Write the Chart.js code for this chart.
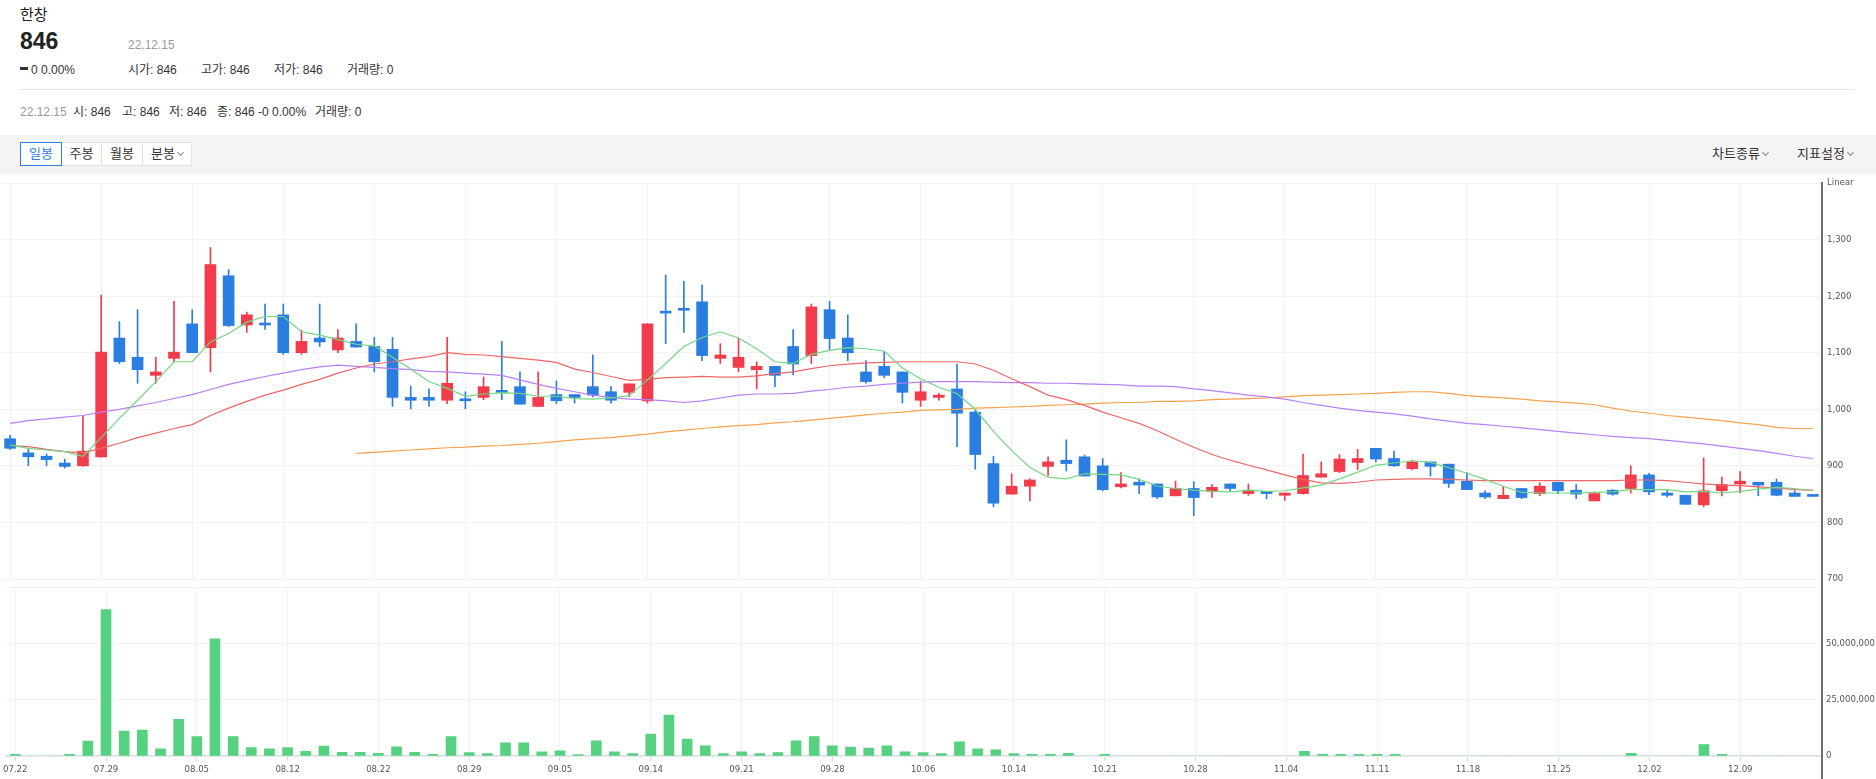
<!DOCTYPE html>
<html lang="ko">
<head>
<meta charset="utf-8">
<title>한창 일봉</title>
<script src="https://cdn.jsdelivr.net/npm/chart.js@4.4.1/dist/chart.umd.min.js"></script>
<style>
  body { margin: 0; width: 1876px; height: 779px; overflow: hidden; background: #fff; position: relative;
         font-family: "Liberation Sans", "Noto Sans CJK KR", sans-serif; color: #333; }
  .t { position: absolute; white-space: nowrap; font-size: 12px; line-height: 12px; }
  .gray { color: #999; }
  .sep { position: absolute; left: 20px; top: 89px; width: 1835px; height: 1px; background: #e6e6e6; }
  .toolbar { position: absolute; left: 0; top: 135px; width: 1876px; height: 39px; background: #f4f4f4; }
  .btn { position: absolute; top: 142px; height: 24px; box-sizing: border-box; border: 1px solid #e1e1e1;
         background: #fff; font-size: 13px; line-height: 22px; text-align: center; color: #333; }
  .btn.on { border-color: #2b7de9; color: #2b7de9; z-index: 1; }
  .chev { display: inline-block; width: 4px; height: 4px; border-right: 1px solid #888; border-bottom: 1px solid #888;
          transform: rotate(45deg); margin-left: 3px; vertical-align: 3px; }
  .menu { position: absolute; top: 146px; font-size: 13px; line-height: 16px; color: #333; white-space: nowrap; }
  .dash { display: inline-block; width: 8px; height: 3px; background: #333; vertical-align: 4px; margin-right: 3px; }
  canvas { position: absolute; left: 0; }
  #axisLine { position: absolute; left: 1821px; top: 182px; width: 1.5px; height: 597px; background: #6f6f6f; }
</style>
</head>
<body>

<div class="t" style="left:20px; top:7px; font-size:15px; line-height:15px; color:#222;">한창</div>
<div class="t" style="left:20px; top:30px; font-size:23px; line-height:23px; font-weight:bold; color:#222;">846</div>
<div class="t gray" style="left:128px; top:39px;">22.12.15</div>
<div class="t" style="left:20px; top:64px;"><span class="dash"></span>0 0.00%</div>
<div class="t" style="left:128px; top:64px;">시가: 846</div>
<div class="t" style="left:201px; top:64px;">고가: 846</div>
<div class="t" style="left:274px; top:64px;">저가: 846</div>
<div class="t" style="left:347px; top:64px;">거래량: 0</div>
<div class="sep"></div>
<div class="t gray" style="left:20px; top:106px;">22.12.15</div>
<div class="t" style="left:73px; top:106px;">시: 846</div>
<div class="t" style="left:122px; top:106px;">고: 846</div>
<div class="t" style="left:169px; top:106px;">저: 846</div>
<div class="t" style="left:217px; top:106px;">종: 846 -0 0.00%</div>
<div class="t" style="left:315px; top:106px;">거래량: 0</div>

<div class="toolbar"></div>
<div class="btn on" style="left:20px; width:42px;">일봉</div>
<div class="btn" style="left:61px; width:41px;">주봉</div>
<div class="btn" style="left:101px; width:42px;">월봉</div>
<div class="btn" style="left:142px; width:50px;">분봉<span class="chev"></span></div>
<div class="menu" style="left:1712px;">차트종류<span class="chev"></span></div>
<div class="menu" style="left:1797px;">지표설정<span class="chev"></span></div>

<canvas id="priceChart" width="1876" height="420" style="top:170px;"></canvas>
<canvas id="volumeChart" width="1876" height="201" style="top:578px;"></canvas>
<div id="axisLine"></div>

<script>
// 1. DATOS (거래일 22.07.22 ~ 22.12.15)
const dates = [
  '07.22','07.25','07.26','07.27','07.28','07.29',
  '08.01','08.02','08.03','08.04','08.05','08.08','08.09','08.10','08.11','08.12',
  '08.16','08.17','08.18','08.19','08.22','08.23','08.24','08.25','08.26','08.29','08.30','08.31',
  '09.01','09.02','09.05','09.06','09.07','09.08','09.13','09.14','09.15','09.16',
  '09.19','09.20','09.21','09.22','09.23','09.26','09.27','09.28','09.29','09.30',
  '10.04','10.05','10.06','10.07','10.11','10.12','10.13','10.14','10.17','10.18','10.19','10.20','10.21',
  '10.24','10.25','10.26','10.27','10.28','10.31',
  '11.01','11.02','11.03','11.04','11.07','11.08','11.09','11.10','11.11','11.14','11.15','11.16','11.17','11.18',
  '11.21','11.22','11.23','11.24','11.25','11.28','11.29','11.30',
  '12.01','12.02','12.05','12.06','12.07','12.08','12.09','12.12','12.13','12.14','12.15'
];

const opens = [
  948, 923, 917, 905, 900, 916, 1126, 1092, 1060, 1090, 1151, 1109, 1236, 1149, 1151, 1167, 1100, 1126, 1105, 1120,
  1111, 1106, 1021, 1021, 1016, 1017, 1021, 1032, 1040, 1005, 1026, 1026, 1040, 1031, 1030, 1015, 1172, 1177, 1190, 1090,
  1074, 1070, 1076, 1111, 1095, 1176, 1126, 1066, 1076, 1066, 1016, 1021, 1036, 995, 904, 850, 864, 899, 910, 916,
  900, 863, 871, 868, 847, 860, 855, 868, 851, 855, 848, 851, 880, 890, 906, 931, 913, 895, 907, 903,
  873, 852, 842, 860, 851, 871, 857, 838, 857, 860, 884, 852, 848, 831, 856, 868, 871, 871, 852, 846
];
const highs = [
  954, 929, 921, 912, 989, 1202, 1155, 1176, 1092, 1191, 1176, 1286, 1247, 1172, 1186, 1186, 1140, 1186, 1141, 1151,
  1127, 1127, 1041, 1036, 1127, 1031, 1057, 1120, 1066, 1066, 1050, 1026, 1096, 1040, 1045, 1151, 1237, 1226, 1220, 1116,
  1126, 1084, 1076, 1141, 1186, 1191, 1167, 1086, 1102, 1066, 1050, 1028, 1080, 1000, 917, 886, 877, 916, 946, 919,
  913, 888, 877, 868, 873, 872, 867, 868, 868, 855, 852, 921, 907, 920, 929, 931, 926, 910, 907, 903,
  888, 856, 864, 860, 870, 871, 867, 854, 858, 900, 887, 857, 848, 914, 880, 890, 871, 877, 856, 846
];
const lows = [
  929, 900, 900, 896, 899, 915, 1081, 1046, 1046, 1084, 1100, 1066, 1146, 1136, 1141, 1097, 1097, 1111, 1100, 1110,
  1066, 1005, 1001, 1005, 1010, 1001, 1017, 1017, 1009, 1005, 1010, 1011, 1022, 1011, 1022, 1011, 1116, 1136, 1086, 1081,
  1066, 1036, 1040, 1061, 1081, 1106, 1086, 1046, 1056, 1011, 1005, 1016, 934, 894, 828, 850, 838, 883, 891, 882,
  856, 861, 851, 842, 847, 812, 844, 855, 848, 842, 839, 850, 880, 888, 893, 907, 899, 893, 882, 862,
  858, 842, 842, 842, 847, 851, 842, 838, 848, 852, 849, 845, 832, 828, 847, 852, 847, 847, 846, 846
];
const closes = [
  931, 916, 911, 899, 926, 1101, 1084, 1070, 1066, 1101, 1100, 1256, 1148, 1167, 1149, 1100, 1120, 1119, 1126, 1110,
  1084, 1021, 1016, 1016, 1046, 1015, 1040, 1030, 1009, 1021, 1015, 1021, 1025, 1016, 1045, 1151, 1170, 1175, 1095, 1096,
  1092, 1076, 1060, 1080, 1181, 1125, 1100, 1049, 1060, 1030, 1031, 1025, 993, 920, 834, 864, 875, 907, 904, 882,
  858, 868, 866, 845, 860, 844, 862, 860, 857, 851, 852, 883, 886, 912, 913, 912, 900, 907, 899, 869,
  858, 845, 848, 844, 864, 856, 850, 851, 850, 884, 854, 848, 832, 856, 867, 873, 866, 848, 846, 846
];
const volumes = [
  730000, 400000, 400000, 730000, 6700000, 65200000, 11100000, 11600000, 3200000, 16300000,
  8600000, 52200000, 8600000, 3700000, 3200000, 3700000, 2050000, 4400000, 1600000, 1600000,
  1200000, 4100000, 1600000, 730000, 8600000, 1470000, 1030000, 5860000, 5860000, 1900000,
  2350000, 590000, 6740000, 1900000, 1030000, 9800000, 18200000, 7500000, 4500000, 1030000,
  1900000, 1030000, 1470000, 6740000, 8650000, 4500000, 3960000, 3500000, 4500000, 1900000,
  1470000, 1030000, 6300000, 3200000, 2800000, 1030000, 730000, 730000, 1170000, 300000,
  730000, 300000, 300000, 300000, 300000, 300000, 150000, 150000, 150000, 150000,
  150000, 2050000, 730000, 730000, 730000, 730000, 730000, 300000, 300000, 300000,
  300000, 300000, 100000, 300000, 100000, 300000, 300000, 100000, 100000, 1170000,
  300000, 100000, 300000, 5100000, 730000, 300000, 300000, 300000, 300000, 0
];

// 이동평균선 (5, 20, 60, 120일)
const ma5 = [
  937, 931, 928, 925, 917, 950, 984, 1016, 1049, 1084, 1084, 1119, 1134, 1154, 1164, 1164, 1137, 1131, 1123, 1115,
  1112, 1092, 1071, 1049, 1037, 1023, 1027, 1029, 1028, 1023, 1023, 1019, 1018, 1020, 1024, 1052, 1081, 1111, 1127, 1137,
  1126, 1107, 1084, 1081, 1097, 1104, 1109, 1107, 1103, 1073, 1054, 1039, 1028, 1000, 961, 927, 897, 880, 877, 886,
  885, 884, 876, 864, 860, 857, 855, 854, 857, 855, 856, 861, 866, 877, 889, 901, 905, 909, 906, 897,
  887, 876, 864, 853, 852, 852, 852, 853, 854, 858, 858, 858, 854, 855, 852, 855, 859, 862, 860, 856
];
const ma20 = [
  936, 934, 929, 925, 923, 931, 940, 950, 958, 966, 973, 989, 1002, 1014, 1025, 1034, 1044, 1053, 1064, 1073,
  1080, 1084, 1089, 1093, 1100, 1097, 1096, 1093, 1090, 1087, 1083, 1071, 1065, 1058, 1051, 1053, 1056, 1057, 1058, 1057,
  1057, 1059, 1063, 1066, 1072, 1077, 1080, 1082, 1083, 1084, 1084, 1084, 1084, 1080, 1069, 1054, 1040, 1025, 1017, 1007,
  995, 985, 975, 962, 947, 933, 920, 910, 901, 893, 884, 876, 870, 869, 871, 875, 876, 877, 877, 876,
  875, 874, 874, 874, 874, 874, 874, 874, 874, 875, 875, 874, 871, 868, 866, 865, 863, 861, 858, 857
];
const ma60 = [
  975, 980, 983, 986, 989, 995, 1000, 1006, 1012, 1019, 1026, 1035, 1044, 1051, 1058, 1064, 1070, 1075, 1078, 1076,
  1074, 1072, 1070, 1067, 1066, 1064, 1062, 1060, 1052, 1044, 1037, 1031, 1025, 1021, 1018, 1017, 1015, 1012, 1015, 1020,
  1025, 1027, 1027, 1028, 1032, 1035, 1039, 1041, 1044, 1046, 1048, 1049, 1049, 1049, 1048, 1047, 1047, 1046, 1046, 1045,
  1044, 1043, 1041, 1041, 1040, 1036, 1033, 1029, 1025, 1022, 1018, 1012, 1007, 1002, 998, 995, 992, 988, 983, 979,
  975, 973, 970, 967, 964, 961, 958, 955, 952, 950, 948, 945, 942, 939, 935, 931, 927, 922, 917, 913
];
const ma120 = [
  null, null, null, null, null, null, null, null, null, null, null, null, null, null, null, null, null, null, null, 922,
  924, 926, 928, 930, 932, 933, 935, 936, 938, 940, 943, 946, 948, 950, 953, 956, 960, 963, 966, 969,
  971, 973, 976, 978, 981, 984, 987, 990, 993, 995, 998, 999, 1000, 1002, 1003, 1004, 1005, 1007, 1008, 1009,
  1011, 1012, 1012, 1014, 1014, 1015, 1017, 1018, 1019, 1020, 1022, 1024, 1025, 1026, 1027, 1028, 1030, 1031, 1031, 1028,
  1024, 1022, 1020, 1018, 1015, 1013, 1011, 1008, 1002, 997, 993, 989, 986, 983, 980, 976, 973, 968, 966, 966
];

const priceTicks = { min: 700, max: 1400, step: 100 };
const volumeTicks = { min: 0, max: 75000000, step: 25000000 };

// 2. ESTILOS
const RED = '#f23b4b';
const BLUE = '#2a7de1';
const GRID = '#f2f2f2';
const AXIS_FONT = { family: "'DejaVu Sans Condensed', 'Liberation Sans', sans-serif", size: 9.5 };

Chart.defaults.font.family = AXIS_FONT.family;
Chart.defaults.animation = false;

const candleColor = ctx => closes[ctx.dataIndex] > opens[ctx.dataIndex] ? RED : BLUE;
const everyFifth = (on, off) => ctx => ctx.index % 5 === 0 ? on : off;

const wicks = lows.map((l, i) => [l, highs[i]]);
const bodies = opens.map((o, i) => [o, closes[i]]);

const maLine = (data, color) => ({
  type: 'line', data: data, borderColor: color, borderWidth: 1.2,
  pointRadius: 0, fill: false, tension: 0, spanGaps: false, order: 0
});

// 3. GRÁFICA DE PRECIOS
new Chart(document.getElementById('priceChart'), {
  type: 'bar',
  data: {
    labels: dates,
    datasets: [
      maLine(ma5, '#72d783'),
      maLine(ma20, '#ee6767'),
      maLine(ma60, '#b97ff5'),
      maLine(ma120, '#f5a24f'),
      { data: bodies, backgroundColor: candleColor, barThickness: 11, minBarLength: 2, grouped: false, order: 1 },
      { data: wicks, backgroundColor: candleColor, barThickness: 1, grouped: false, order: 2 }
    ]
  },
  options: {
    responsive: false,
    layout: { padding: { top: 13, bottom: 11, left: 1, right: 0 } },
    plugins: { legend: { display: false }, tooltip: { enabled: false } },
    scales: {
      x: {
        offset: true,
        grid: { offset: false, drawTicks: false, color: everyFifth(GRID, 'rgba(0,0,0,0)') },
        border: { display: false },
        ticks: { display: false, autoSkip: false },
        afterFit: s => { s.height = 0; }
      },
      y: {
        position: 'right',
        min: priceTicks.min, max: priceTicks.max,
        grid: { color: GRID, drawTicks: false },
        border: { display: false },
        ticks: {
          stepSize: priceTicks.step, padding: 5, color: '#555', font: AXIS_FONT,
          callback: v => v === priceTicks.max ? 'Linear' : v.toLocaleString('en-US')
        },
        afterFit: s => { s.width = 54; }
      }
    }
  }
});

// 4. GRÁFICA DE VOLUMEN
new Chart(document.getElementById('volumeChart'), {
  type: 'bar',
  data: {
    labels: dates,
    datasets: [{
      data: volumes,
      backgroundColor: ctx => volumes[ctx.dataIndex] < 500000 ? '#c3edd0' : '#55d17f',
      barThickness: 10
    }]
  },
  options: {
    responsive: false,
    layout: { padding: { top: 6, bottom: 0, left: 1, right: 0 } },
    plugins: { legend: { display: false }, tooltip: { enabled: false } },
    scales: {
      x: {
        offset: true,
        grid: {
          offset: false, tickLength: 5,
          color: everyFifth(GRID, 'rgba(0,0,0,0)'),
          tickColor: everyFifth('#d3d9e6', 'rgba(0,0,0,0)')
        },
        border: { color: '#d9dfea', width: 1.5 },
        ticks: {
          autoSkip: false, maxRotation: 0, padding: 3, color: '#555', font: AXIS_FONT,
          callback: (v, i) => i % 5 === 0 ? dates[i] : ''
        },
        afterFit: s => { s.height = 23; }
      },
      y: {
        position: 'right',
        min: volumeTicks.min, max: volumeTicks.max,
        grid: { color: GRID, drawTicks: false },
        border: { display: false },
        ticks: {
          stepSize: volumeTicks.step, padding: 4, color: '#555', font: AXIS_FONT,
          callback: v => v === volumeTicks.max ? '' : v.toLocaleString('en-US')
        },
        afterFit: s => { s.width = 54; }
      }
    }
  }
});
</script>
</body>
</html>
